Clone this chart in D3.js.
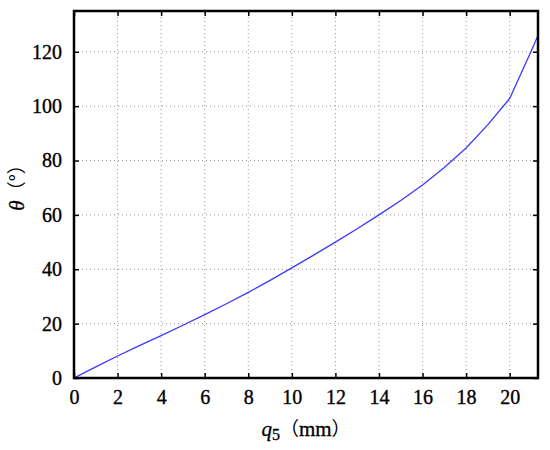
<!DOCTYPE html>
<html>
<head>
<meta charset="utf-8">
<script src="https://cdn.jsdelivr.net/npm/d3@7"></script>
<style>
  html, body { margin: 0; padding: 0; background: #fff; }
  svg { display: block; }
  .serif { font-family: "Liberation Serif", "Times New Roman", "DejaVu Serif", serif; }
</style>
</head>
<body>
<svg id="chart" width="550" height="450"></svg>
<script>
// Data
const qValues = [0, 1, 2, 3, 4, 5, 6, 7, 8, 9, 10, 11, 12, 13, 14, 15, 16, 17, 18, 19, 20, 21, 21.3];
const thetaValues = [0, 4.1, 8.1, 11.9, 15.6, 19.4, 23.3, 27.3, 31.5, 35.9, 40.5, 45.2, 50.0, 54.9, 60.0, 65.3, 71.0, 77.4, 84.6, 93.2, 102.8, 120.5, 126.0];
const xTicks = [0, 2, 4, 6, 8, 10, 12, 14, 16, 18, 20];
const yTicks = [0, 20, 40, 60, 80, 100, 120];
const xDomain = [0, 21.3];
const yDomain = [0, 135];

const svg = d3.select("#chart");
const margin = { left: 74, top: 11, right: 12, bottom: 72 };
const W = 550, H = 450;
const x = d3.scaleLinear().domain(xDomain).range([margin.left, W - margin.right]);
const y = d3.scaleLinear().domain(yDomain).range([H - margin.bottom, margin.top]);
const x0 = x.range()[0], x1 = x.range()[1], y0 = y.range()[0], y1 = y.range()[1];

const cjk = "'Noto Sans CJK SC', sans-serif";

// Grid
const grid = svg.append("g").attr("stroke", "#999").attr("stroke-width", 1).attr("stroke-dasharray", "1,3");
grid.selectAll(".gx").data(xTicks.filter(d => d > 0)).enter().append("line")
  .attr("x1", d => x(d)).attr("x2", d => x(d)).attr("y1", y0).attr("y2", y1);
grid.selectAll(".gy").data(yTicks.filter(d => d > 0)).enter().append("line")
  .attr("y1", d => y(d)).attr("y2", d => y(d)).attr("x1", x0).attr("x2", x1);

// Axes with inward ticks
const tickLen = 5;
const fontSize = 20;
const bottomAxis = d3.axisBottom(x).tickValues(xTicks).tickSizeInner(-tickLen).tickSizeOuter(0).tickPadding(12);
const leftAxis = d3.axisLeft(y).tickValues(yTicks).tickSizeInner(-tickLen).tickSizeOuter(0).tickPadding(12);
const topAxis = d3.axisTop(x).tickValues(xTicks).tickSizeInner(-tickLen).tickSizeOuter(0).tickFormat("");
const rightAxis = d3.axisRight(y).tickValues(yTicks).tickSizeInner(-tickLen).tickSizeOuter(0).tickFormat("");

function styleAxis(g) {
  g.attr("font-family", null).attr("font-size", null).attr("class", "serif");
  g.select(".domain").remove();
  g.selectAll(".tick line").attr("stroke", "#000").attr("stroke-width", 1.5);
  g.selectAll(".tick text").attr("fill", "#000").attr("font-size", fontSize)
    .attr("stroke", "#000").attr("stroke-width", 0.35);
}
svg.append("g").attr("transform", `translate(0,${y0})`).call(bottomAxis).call(styleAxis);
svg.append("g").attr("transform", `translate(${x0},0)`).call(leftAxis).call(styleAxis);
svg.append("g").attr("transform", `translate(0,${y1})`).call(topAxis).call(styleAxis);
svg.append("g").attr("transform", `translate(${x1},0)`).call(rightAxis).call(styleAxis);

// Curve
const pts = qValues.map((q, i) => [q, thetaValues[i]]);
svg.append("clipPath").attr("id", "clip").append("rect")
  .attr("x", x0).attr("y", y1).attr("width", x1 - x0).attr("height", y0 - y1);
svg.append("path").datum(pts)
  .attr("clip-path", "url(#clip)")
  .attr("fill", "none").attr("stroke", "#3a3aff").attr("stroke-width", 1.3)
  .attr("stroke-linejoin", "round")
  .attr("d", d3.line().x(d => x(d[0])).y(d => y(d[1])));

// Frame
svg.append("rect").attr("x", x0).attr("y", y1).attr("width", x1 - x0).attr("height", y0 - y1)
  .attr("fill", "none").attr("stroke", "#000").attr("stroke-width", 2.5);

// X title: q5（mm）
const xt = svg.append("text").attr("class", "serif").attr("x", (x0 + x1) / 2).attr("y", 436)
  .attr("text-anchor", "middle").attr("font-size", 21).attr("fill", "#000")
  .attr("stroke", "#000").attr("stroke-width", 0.3);
xt.append("tspan").style("font-style", "italic").text("q");
xt.append("tspan").attr("dy", 4).attr("font-size", 16).text("5");
xt.append("tspan").attr("dy", -4).style("font-family", cjk).attr("font-size", 19).attr("stroke-width", 0).text("（");
xt.append("tspan").text("mm");
xt.append("tspan").style("font-family", cjk).attr("font-size", 19).attr("stroke-width", 0).text("）");

// Y title: θ（°）
const yt = svg.append("text").attr("class", "serif").attr("transform", "translate(24,183) rotate(-90)")
  .attr("text-anchor", "middle").attr("font-size", 21).attr("fill", "#000")
  .attr("stroke", "#000").attr("stroke-width", 0.3);
yt.append("tspan").style("font-style", "italic").text("θ");
yt.append("tspan").style("font-family", cjk).attr("font-size", 19).attr("stroke-width", 0).text("（°）");
</script>
</body>
</html>
